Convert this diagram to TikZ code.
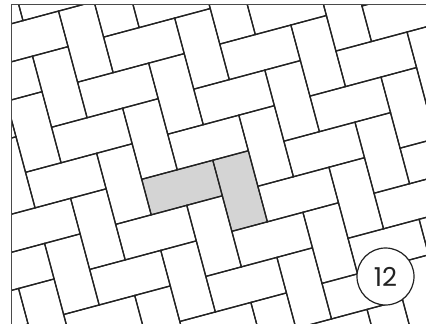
\documentclass[tikz,border=0pt]{standalone}
\usepackage{fontspec}
\newfontfamily\badgefont{Poppins}
\definecolor{tileline}{HTML}{222222}
\definecolor{tilegray}{HTML}{D4D4D4}
\definecolor{framegray}{HTML}{4A4A4A}
\tikzset{
  tile/.style={draw=tileline, line width=1.25pt, line join=miter},
  graytile/.style={fill=tilegray},
  frameline/.style={draw=framegray, line width=1.4pt},
  badge/.style={circle, draw=tileline, line width=1.2pt, fill=white, minimum size=57pt, inner sep=0pt, font=\badgefont\fontsize{26}{26}\selectfont, text=tileline}
}
\begin{document}
\begin{tikzpicture}[x=1pt,y=-1pt]
\useasboundingbox[fill=white] (0,0) rectangle (426,324);
\begin{scope}
  \clip (11.5,4.5) rectangle (430,330);
  \begin{scope}[shift={(141.7,179.3)}, rotate=15, scale=36.8]
    \fill[graytile] (0,0) rectangle (2,1);
    \fill[graytile] (2,0) rectangle (3,2);
    \foreach \m in {-12,...,12}{
      \foreach \n in {-6,...,6}{
        \pgfmathtruncatemacro\ao{\m+2*\n}
        \pgfmathtruncatemacro\bo{2*\n-\m}
        \pgfmathtruncatemacro\av{\ao+2}
        \draw[tile] (\ao,\bo) rectangle ++(2,1);
        \draw[tile] (\av,\bo) rectangle ++(1,2);
      }
    }
  \end{scope}
\end{scope}
\draw[frameline] (426,4.5) -- (11.5,4.5) -- (11.5,324);
\node[badge] (num) at (385.5,276.5) {12};
\end{tikzpicture}
\end{document}
